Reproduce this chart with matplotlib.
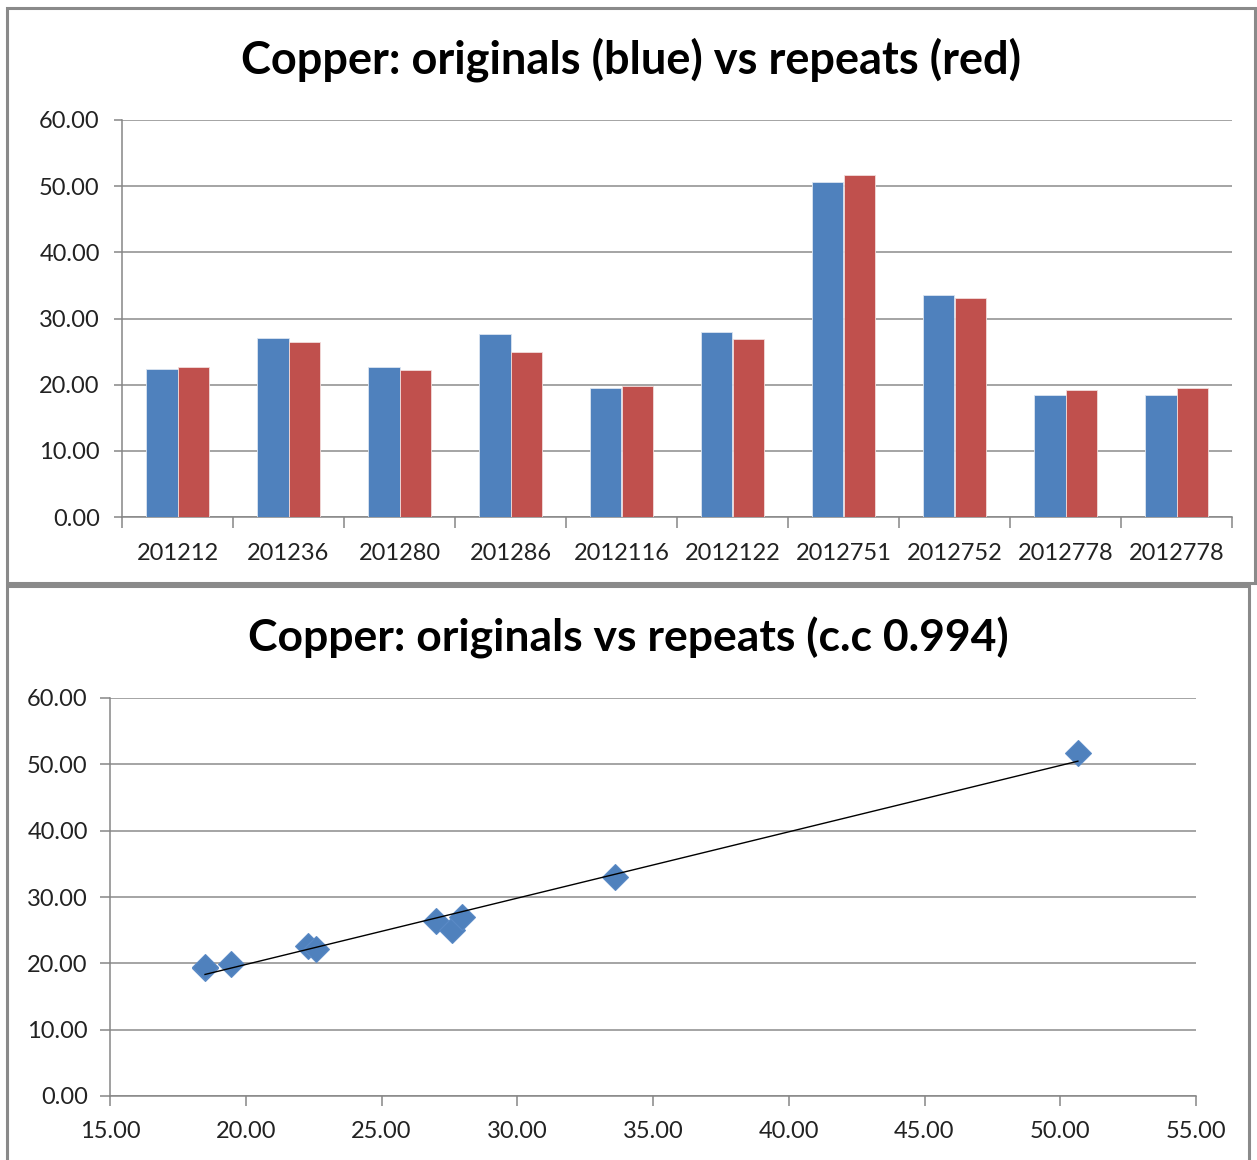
import numpy as np
import matplotlib
matplotlib.use("Agg")
import matplotlib.pyplot as plt
from matplotlib.patches import Rectangle

plt.rcParams['font.family'] = ['Lato', 'DejaVu Sans']

categories = ["201212", "201236", "201280", "201286", "2012116",
              "2012122", "2012751", "2012752", "2012778", "2012778"]
originals = [22.3, 27.0, 22.6, 27.6, 19.45, 27.95, 50.65, 33.6, 18.5, 18.5]
repeats = [22.6, 26.4, 22.2, 25.0, 19.85, 26.95, 51.65, 33.05, 19.25, 19.45]

title_top = "Copper: originals (blue) vs repeats (red)"
title_bottom = "Copper: originals vs repeats (c.c 0.994)"

BLUE = "#4F81BD"
RED = "#C0504D"
GRID = "#8C8C8C"
AX = "#868686"

W, H = 1257, 1160
fig = plt.figure(figsize=(W / 100, H / 100), dpi=100)


def fx(px):
    return px / W


def fy(py):
    return 1 - py / H


# panel borders
fig.patches.append(Rectangle((fx(7), fy(583)), fx(1255) - fx(7), fy(8) - fy(583),
                             transform=fig.transFigure, fill=False,
                             edgecolor="#8a8a8a", lw=2.2))
fig.patches.append(Rectangle((fx(7), fy(1170)), fx(1249) - fx(7), fy(586) - fy(1170),
                             transform=fig.transFigure, fill=False,
                             edgecolor="#8a8a8a", lw=2.2))

tick_fs = 17

# ---------- bar chart ----------
ax1 = fig.add_axes([fx(122), fy(517), fx(1232) - fx(122), fy(120) - fy(517)])
x = np.arange(len(categories))
bw = 1 / 3.5
ax1.bar(x - bw / 2, originals, width=bw, color=BLUE, edgecolor="#dbe5f1",
        linewidth=0.6, zorder=3)
ax1.bar(x + bw / 2, repeats, width=bw, color=RED, edgecolor="#f2dcdb",
        linewidth=0.6, zorder=3)
ax1.set_xlim(-0.5, len(categories) - 0.5)
ax1.set_ylim(0, 60)
ax1.set_yticks(np.arange(0, 61, 10))
ax1.set_yticklabels([f"{v:.2f}" for v in np.arange(0, 61, 10)])
ax1.yaxis.grid(True, color=GRID, lw=1.1, zorder=0)
ax1.set_axisbelow(True)
ax1.set_xticks(np.arange(-0.5, len(categories), 1.0))
ax1.set_xticklabels([])
ax1.set_xticks(x, minor=True)
ax1.set_xticklabels(categories, minor=True)
ax1.tick_params(axis="x", which="major", direction="out", length=8,
                color=AX, width=1.1)
ax1.tick_params(axis="x", which="minor", length=0, pad=18.5, labelsize=tick_fs,
                colors="#222222")
ax1.tick_params(axis="y", direction="out", length=6, color=AX, width=1.1,
                labelsize=tick_fs, pad=10, labelcolor="#222222")
for s in ["top", "right"]:
    ax1.spines[s].set_visible(False)
for s in ["left", "bottom"]:
    ax1.spines[s].set_color(AX)
    ax1.spines[s].set_linewidth(1.1)

fig.text(fx(631), fy(60), title_top, ha="center", va="center",
         fontsize=32.5, fontweight="bold", color="black")

# ---------- scatter ----------
ax2 = fig.add_axes([fx(110), fy(1096), fx(1196) - fx(110), fy(698) - fy(1096)])
ax2.plot(originals, repeats, linestyle="none", marker="D", markersize=13,
         color=BLUE, markeredgecolor="#5a8ac6", markeredgewidth=0.8, zorder=3)
xs = np.array(originals)
ys = np.array(repeats)
m, b = np.polyfit(xs, ys, 1)
xl = np.array([xs.min(), xs.max()])
ax2.plot(xl, m * xl + b, color="black", lw=1.0, zorder=4)
ax2.set_xlim(15, 55)
ax2.set_ylim(0, 60)
ax2.set_xticks(np.arange(15, 56, 5))
ax2.set_xticklabels([f"{v:.2f}" for v in np.arange(15, 56, 5)])
ax2.set_yticks(np.arange(0, 61, 10))
ax2.set_yticklabels([f"{v:.2f}" for v in np.arange(0, 61, 10)])
ax2.yaxis.grid(True, color=GRID, lw=1.1, zorder=0)
ax2.set_axisbelow(True)
ax2.tick_params(axis="x", direction="out", length=7, color=AX, width=1.1,
                labelsize=tick_fs, pad=11, labelcolor="#222222")
ax2.tick_params(axis="y", direction="out", length=7, color=AX, width=1.1,
                labelsize=tick_fs, pad=9, labelcolor="#222222")
for s in ["top", "right"]:
    ax2.spines[s].set_visible(False)
for s in ["left", "bottom"]:
    ax2.spines[s].set_color(AX)
    ax2.spines[s].set_linewidth(1.1)

fig.text(fx(628), fy(638), title_bottom, ha="center", va="center",
         fontsize=32, fontweight="bold", color="black")

fig.savefig("out.png", dpi=100, facecolor="white")
